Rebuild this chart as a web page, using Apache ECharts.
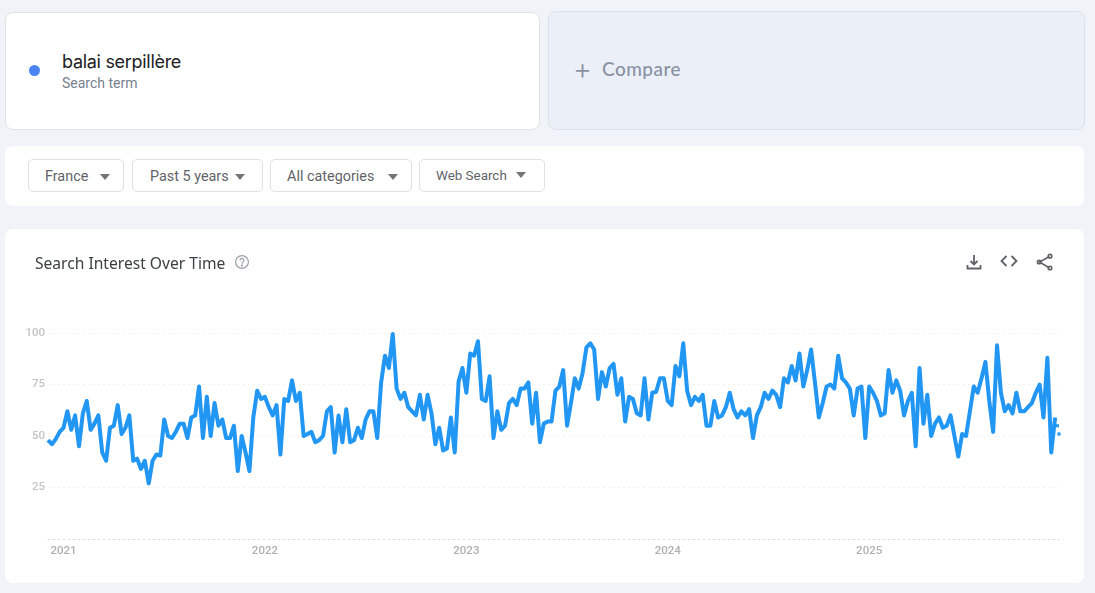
<!DOCTYPE html>
<html>
<head>
<meta charset="utf-8">
<title>Search Interest Over Time</title>
<script src="https://cdn.jsdelivr.net/npm/echarts@6/dist/echarts.min.js"></script>
<style>
  html, body { margin: 0; padding: 0; width: 1095px; height: 593px; overflow: hidden; background: #f0f4f9; }
  body { position: relative; font-family: Roboto, sans-serif; }
  .box { position: absolute; box-sizing: border-box; }
  .term { left: 5px; top: 12px; width: 535px; height: 118px; background: #fff; border: 1px solid #dfe3e8; border-radius: 8px; }
  .dot { position: absolute; left: 23px; top: 52px; width: 11px; height: 11px; border-radius: 50%; background: #4c84f5; }
  .term-name { position: absolute; left: 56px; top: 38px; font: 400 18px Inter, Roboto, sans-serif; letter-spacing: -0.3px; color: #202124; }
  .term-sub { position: absolute; left: 56px; top: 62px; font: 14px Roboto, sans-serif; color: #76808f; }
  .compare { left: 548px; top: 11px; width: 537px; height: 119px; background: #eaeff8; border: 1px solid #dbe0ea; border-radius: 8px; }
  .compare span { position: absolute; top: 45px; color: #8a92a3; }
  .compare .plus { left: 24px; top: 39px; font: 300 29px Inter, sans-serif; }
  .compare .label { left: 53px; font: 500 19px Lato, Inter, sans-serif; letter-spacing: 0.45px; }
  .filters { left: 5px; top: 146px; width: 1079px; height: 60px; background: #fff; border-radius: 8px; }
  .btn { position: absolute; top: 13px; height: 33px; box-sizing: border-box; border: 1px solid #dfe1e5; border-radius: 5px; color: #5f6368; font: 14.4px/33px Roboto, sans-serif; padding-left: 16px; }
  .btn i { position: absolute; top: 14px; width: 0; height: 0; border-left: 5px solid transparent; border-right: 5px solid transparent; border-top: 6px solid #70757a; }
  .card { left: 5px; top: 229px; width: 1079px; height: 354px; background: #fff; border-radius: 8px; }
  #chart { position: absolute; left: 0; top: 0; width: 1079px; height: 354px; }
  .card-title { position: absolute; left: 30px; top: 23px; font: 15.6px "Noto Sans", sans-serif; color: #3c4043; }
  .help { position: absolute; left: 229px; top: 25px; }
  .tool { position: absolute; top: 24px; }
</style>
</head>
<body>
  <div class="box term">
    <div class="dot"></div>
    <div class="term-name">balai serpillère</div>
    <div class="term-sub">Search term</div>
  </div>
  <div class="box compare">
    <span class="plus">+</span>
    <span class="label">Compare</span>
  </div>
  <div class="box filters">
    <div class="btn" style="left:23px;width:96px">France<i style="left:71px"></i></div>
    <div class="btn" style="left:127px;width:131px;padding-left:17px">Past 5 years<i style="left:102px"></i></div>
    <div class="btn" style="left:265px;width:142px;padding-left:16px">All categories<i style="left:117px"></i></div>
    <div class="btn" style="left:414px;width:126px;font-size:13.4px;line-height:31px">Web Search<i style="left:96px;top:12px"></i></div>
  </div>
  <div class="box card">
    <div id="chart"></div>
    <div class="card-title">Search Interest Over Time</div>
    <svg class="help" width="16" height="16" viewBox="0 0 16 16" fill="none" stroke="#9aa0a6" stroke-width="1.2">
      <circle cx="8" cy="8" r="6.4"/>
      <path d="M6 6.4a2 2 0 1 1 3 1.7c-.7.4-1 .8-1 1.6"/>
      <circle cx="8" cy="11.6" r=".5"/>
    </svg>
    <svg class="tool" style="left:960px" width="18" height="18" viewBox="0 0 18 18" fill="none" stroke="#5f6368" stroke-width="1.8">
      <path d="M9 2v9M5.5 8 9 11.5 12.5 8M2.5 12v3.5h13V12"/>
    </svg>
    <svg class="tool" style="left:995px" width="18" height="18" viewBox="0 0 18 18" fill="none" stroke="#5f6368" stroke-width="1.8">
      <path d="M6.5 4 1.5 9l5 5M11.5 4l5 5-5 5" transform="translate(0 -1)"/>
    </svg>
    <svg class="tool" style="left:1031px" width="18" height="18" viewBox="0 0 18 18" fill="none" stroke="#5f6368" stroke-width="1.6">
      <path d="M13.5 3.5 3.5 9l10 6"/>
      <circle cx="14" cy="3.2" r="1.8"/><circle cx="3.2" cy="9" r="1.8"/><circle cx="14" cy="15" r="1.8"/>
    </svg>
  </div>

<script>
// weekly search interest
const interest = [
  48, 46, 48.5, 52, 54, 62, 53, 60, 45, 61,
  67, 53, 56, 60, 42, 38, 54, 55, 65, 51,
  54, 60, 38, 39, 34, 38, 27, 38, 41, 40.5,
  58, 50, 49, 52, 56, 56, 49, 59, 60, 74,
  49, 69, 50, 66, 55, 58, 49, 49, 55, 33,
  50, 42, 33, 59, 72, 68, 69, 64, 60, 65,
  41, 68, 67, 77, 67, 71, 50, 51, 52, 47,
  48, 50, 62, 64, 42, 60, 47, 63, 47, 48,
  54, 49, 58, 62, 62, 49, 76, 89, 83, 99.5,
  73, 68, 71, 64, 62, 60, 70, 58, 70, 61,
  46, 54, 43, 44, 59, 42, 76.5, 83, 71, 90,
  89, 96, 68, 67, 79, 49, 62, 53, 55, 66,
  68, 65, 73, 73, 76, 56, 71, 47, 56, 57,
  57, 72, 74, 82, 55, 66, 78, 73, 80.5, 93,
  95, 92, 68, 81, 74, 83, 85, 70, 78, 57,
  69, 68, 61, 60, 78, 58, 71, 71.5, 78, 78,
  67, 65, 84, 79, 95, 72, 65, 69, 67, 70,
  55, 55, 67, 59, 60, 64, 71, 63, 59, 62,
  60, 63, 49, 60, 64, 71, 68, 72, 70, 64,
  78, 76, 84, 77, 90, 74, 82, 92, 76, 59,
  66, 74, 75, 73, 89, 78, 76, 73, 60, 73,
  74, 49, 74, 71, 67, 60, 61, 82, 71, 77,
  72, 60, 67, 71, 45, 83, 56, 70, 50, 56,
  59, 54, 55, 60, 50, 40, 51, 50, 62, 74,
  71, 78, 86, 67, 52, 94, 71, 62, 65, 61,
  71, 62, 62, 64, 66, 71, 75, 59, 88, 42,
  59
];
// the unfinished last week: a short stub and a lone dot
const partialStub = [55, 55];
const partialPoint = [51];

const weekLabels = [...interest, null].map((_, i) => "W" + i);
const yearTickWeeks = [4, 56, 108, 160, 212];
const yearLabels = ["2021", "2022", "2023", "2024", "2025"];
const yTicks = [25, 50, 75, 100];

const lastWeek = interest.length;
const lineColor = "#2196f3";

const chart = echarts.init(document.getElementById("chart"));

chart.setOption({
  animation: false,
  grid: { left: 43, right: 25, top: 104, bottom: 44 },
  xAxis: {
    type: "category",
    boundaryGap: false,
    data: weekLabels,
    axisTick: { show: false },
    axisLine: { lineStyle: { color: "#dcdcdc", type: [2, 3], width: 1 } },
    axisLabel: {
      color: "#b0b0b0",
      fontFamily: "Roboto",
      fontSize: 11.5,
      fontWeight: 500,
      margin: 6,
      hideOverlap: false,
      interval: (i) => yearTickWeeks.includes(i),
      formatter: (v, i) => yearLabels[yearTickWeeks.indexOf(i)]
    }
  },
  yAxis: {
    type: "value",
    min: 0,
    max: 100,
    interval: 25,
    axisLine: { show: false },
    axisTick: { show: false },
    splitLine: { lineStyle: { color: "#f1f1f1", type: [2, 3], width: 1 } },
    axisLabel: {
      color: "#c4c4c4",
      fontFamily: "Roboto",
      fontSize: 11.5,
      fontWeight: 500,
      margin: 3,
      formatter: (v) => (yTicks.includes(v) ? v : "")
    }
  },
  series: [
    {
      type: "line",
      data: interest,
      showSymbol: false,
      lineStyle: { color: lineColor, width: 4, join: "round" }
    },
    {
      type: "line",
      data: partialStub.map((v, i) => [lastWeek - 1 + i, v]),
      showSymbol: false,
      lineStyle: { color: lineColor, width: 3 }
    },
    {
      type: "scatter",
      data: partialPoint.map((v) => [lastWeek, v]),
      symbolSize: 4,
      itemStyle: { color: lineColor }
    }
  ]
});
</script>
</body>
</html>
